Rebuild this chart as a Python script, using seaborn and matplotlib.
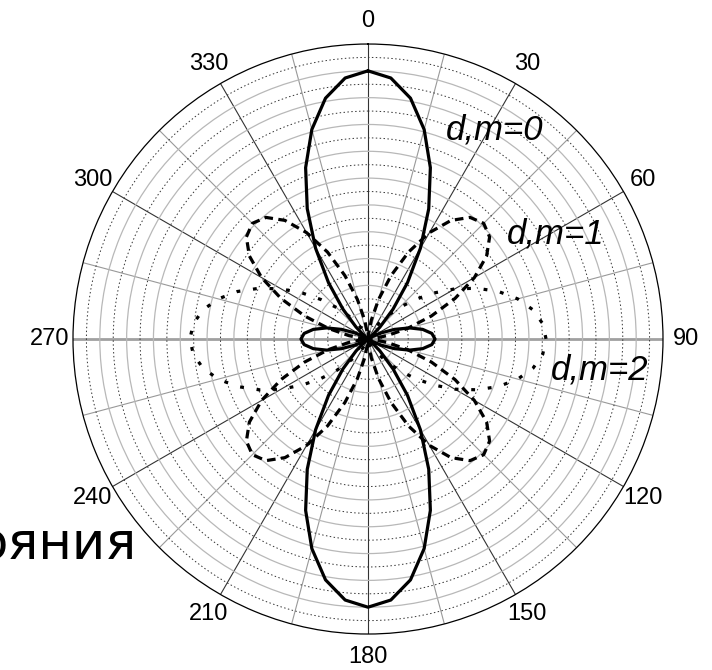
import numpy as np
import pandas as pd
import matplotlib
matplotlib.use('Agg')
import matplotlib.pyplot as plt
import seaborn as sns

sns.set_style('white')
plt.rcParams['font.family'] = ['Liberation Sans', 'DejaVu Sans']

# %% Data: angle 0..90 deg in 5 deg steps (curves are symmetric)
quarter_deg = [0, 5, 10, 15, 20, 25, 30, 35, 40, 45, 50, 55, 60, 65, 70, 75, 80, 85, 90]
d_m0 = [1.0, 0.977, 0.912, 0.809, 0.680, 0.536, 0.391, 0.257, 0.145, 0.063, 0.014, 0.0,
        0.016, 0.054, 0.105, 0.160, 0.207, 0.239, 0.25]
d_m1 = [0.0, 0.019, 0.072, 0.153, 0.252, 0.358, 0.458, 0.540, 0.592, 0.61, 0.592, 0.540,
        0.458, 0.358, 0.252, 0.153, 0.072, 0.019, 0.0]
d_m2 = [0.0, 0.0, 0.001, 0.003, 0.009, 0.021, 0.042, 0.072, 0.113, 0.166, 0.229, 0.299,
        0.374, 0.448, 0.518, 0.578, 0.625, 0.654, 0.664]
curve_labels = ['d,m=0', 'd,m=1', 'd,m=2']
overlay_word = 'ояния'


def full_circle(vals):
    # mirror the quarter: 0..90, 90..180, 180..360 repeats 0..180
    half = list(vals) + list(vals[-2::-1])
    return np.array(half + half[1:])


full_deg = np.array(quarter_deg + [180 - a for a in quarter_deg[-2::-1]])
full_deg = np.concatenate([full_deg, full_deg[1:] + 180])

df = pd.DataFrame({
    'theta': np.deg2rad(np.tile(full_deg, 3)),
    'r': np.concatenate([full_circle(d_m0), full_circle(d_m1), full_circle(d_m2)]),
    'curve': np.repeat(curve_labels, len(full_deg)),
})

# %% Plot
fig = plt.figure(figsize=(7.12, 6.70), dpi=100)
ax = fig.add_axes([0.1025, 0.0537, 0.8287, 0.8806], projection='polar')
ax.set_theta_zero_location('N')
ax.set_theta_direction(-1)
ax.set_ylim(0, 1.1)

# radial rings
rings = np.round(np.arange(0.05, 1.1, 0.05), 2)
ax.set_rgrids(rings, labels=[''] * len(rings))
for i, gl in enumerate(ax.yaxis.get_gridlines()):
    if i % 2 == 0:
        gl.set_color('#333333')
        gl.set_linestyle((0, (1.5, 2.5)))
        gl.set_linewidth(0.7)
    else:
        gl.set_color('#b8b8b8')
        gl.set_linestyle('-')
        gl.set_linewidth(0.9)

# angular spokes
spokes = list(range(0, 360, 15))
ax.set_thetagrids(spokes, labels=[str(a) if a % 30 == 0 else '' for a in spokes])
for a, gl in zip(spokes, ax.xaxis.get_gridlines()):
    if a in (90, 270):
        gl.set_color('#a0a0a0')
        gl.set_linewidth(2.0)
    elif a % 30 == 0:
        gl.set_color('#333333')
        gl.set_linewidth(0.8)
    else:
        gl.set_color('#999999')
        gl.set_linewidth(0.8)
    gl.set_linestyle('-')
ax.tick_params(axis='x', labelsize=17, pad=6, colors='black')
ax.spines['polar'].set_color('black')
ax.spines['polar'].set_linewidth(0.9)

styles = {'d,m=0': '-', 'd,m=1': (0, (2.7, 1.7)), 'd,m=2': (0, (1.2, 4.0))}
for name in curve_labels:
    sub = df[df['curve'] == name]
    sns.lineplot(data=sub, x='theta', y='r', ax=ax, sort=False, estimator=None,
                 color='black', linewidth=2.3, linestyle=styles[name], legend=False)
ax.set_xlabel('')
ax.set_ylabel('')

# curve annotations (figure pixel positions)
label_pos = {'d,m=0': (495, 130), 'd,m=1': (556, 234), 'd,m=2': (600, 370)}
for name in curve_labels:
    x, y = label_pos[name]
    fig.text(x / 712, 1 - y / 670, name, fontsize=25, style='italic', color='black',
             ha='center', va='center')

fig.text(136 / 712, 1 - 545 / 670, overlay_word, fontsize=37, family='DejaVu Sans',
         color='black', ha='right', va='center')

fig.savefig('out.png', dpi=100)
